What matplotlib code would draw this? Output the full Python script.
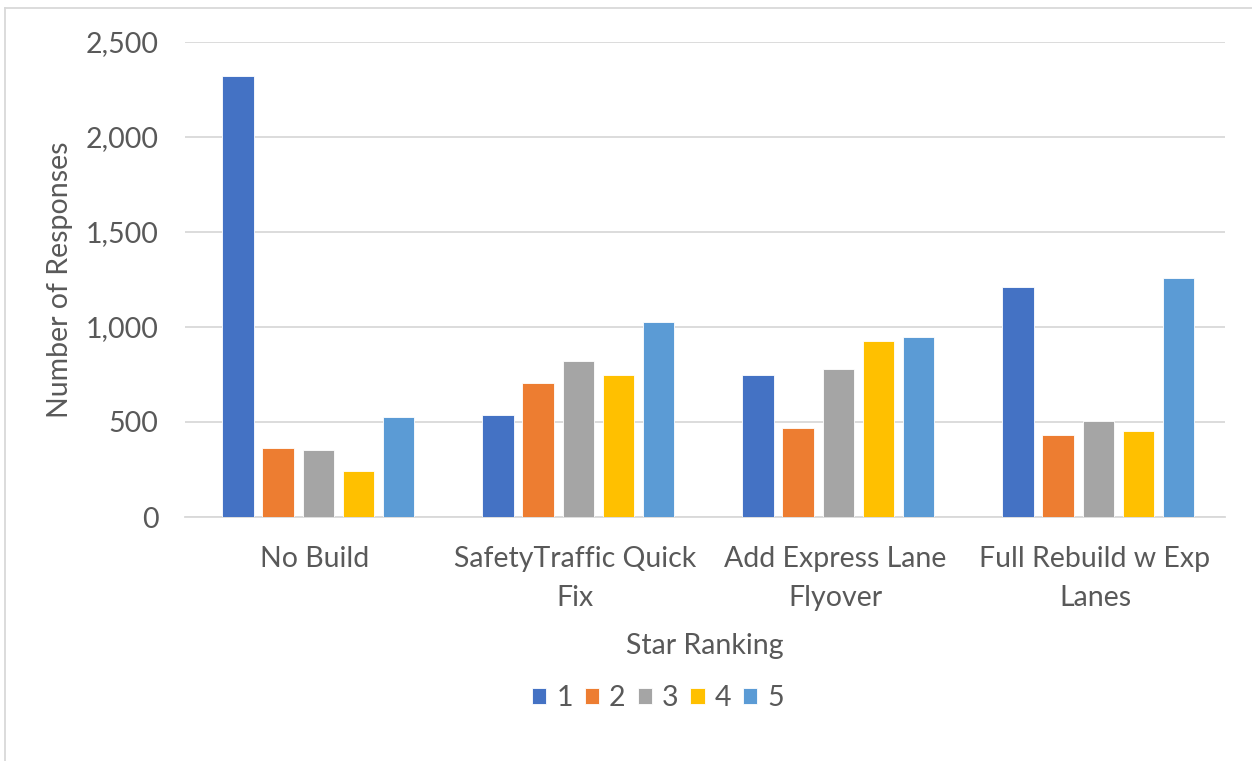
import numpy as np
import matplotlib
matplotlib.use("Agg")
import matplotlib.pyplot as plt
from matplotlib.ticker import FuncFormatter
from matplotlib.lines import Line2D

# Survey data: responses per star ranking for each option
categories = ["No Build", "SafetyTraffic Quick\nFix", "Add Express Lane\nFlyover",
              "Full Rebuild w Exp\nLanes"]
stars = ["1", "2", "3", "4", "5"]
star1 = [2319, 535, 745, 1209]
star2 = [364, 707, 466, 431]
star3 = [354, 819, 780, 504]
star4 = [241, 747, 925, 453]
star5 = [528, 1028, 945, 1256]
colors = ["#4472C4", "#ED7D31", "#A5A5A5", "#FFC000", "#5B9BD5"]

plt.rcParams['font.family'] = ['Lato', 'DejaVu Sans']
txt = "#595959"
fs = 20.5

fig = plt.figure(figsize=(12.52, 7.61), dpi=100)
ax = fig.add_axes([185/1252, 1-517/761, 1040/1252, 475/761])

x = np.arange(len(categories))
step = 0.154
width = 0.12
series = [star1, star2, star3, star4, star5]
for i, vals in enumerate(series):
    ax.bar(x + (i - 2) * step + 0.012, vals, width, color=colors[i], label=stars[i],
           edgecolor="white", linewidth=0.6, zorder=3)

ax.set_xlim(-0.5, len(categories) - 0.5)
ax.set_ylim(0, 2500)
ax.set_yticks(np.arange(0, 2501, 500))
ax.yaxis.set_major_formatter(FuncFormatter(lambda v, p: f"{v:,.0f}"))
ax.set_xticks(x)
ax.set_xticklabels(categories, linespacing=1.6)

ax.grid(axis="y", color="#D9D9D9", lw=1.3, zorder=0)
for s in ["top", "right", "left"]:
    ax.spines[s].set_visible(False)
ax.spines["bottom"].set_color("#D9D9D9")
ax.spines["bottom"].set_linewidth(1.3)
ax.tick_params(axis="both", length=0, labelsize=fs, colors=txt)
ax.tick_params(axis="y", pad=19)
ax.tick_params(axis="x", pad=21)

ax.set_ylabel("Number of Responses", fontsize=fs, color=txt, labelpad=9)
ax.set_xlabel("Star Ranking", fontsize=fs, color=txt, labelpad=16)

fig.legend(loc="center", bbox_to_anchor=(658/1252, 1-698/761), ncol=5, frameon=False,
           fontsize=fs, labelcolor=txt, handlelength=0.5, handleheight=0.5,
           handletextpad=0.35, columnspacing=0.42)

# chart-area border (left and top edges visible)
fig.add_artist(Line2D([5/1252, 5/1252], [0, 1-8/761], color="#D9D9D9", lw=1.3))
fig.add_artist(Line2D([5/1252, 1], [1-8/761, 1-8/761], color="#D9D9D9", lw=1.3))

fig.savefig("out.png", dpi=100, facecolor="white")
